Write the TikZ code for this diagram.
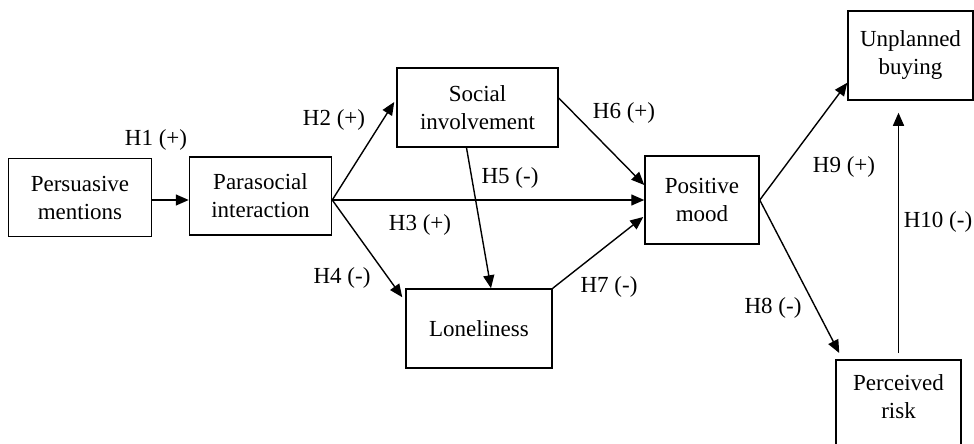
\documentclass[tikz,border=0pt]{standalone}
\usepackage{fontspec}
\setmainfont{Liberation Serif}
\usetikzlibrary{arrows.meta,calc}
\begin{document}
\begin{tikzpicture}[x=1pt,y=-1pt,
  txt/.style={font=\fontsize{23}{28}\selectfont},
  box/.style={txt,draw,line width=1.5pt,align=center,inner sep=0pt},
  lbl/.style={txt,inner sep=0pt},
  arr/.style={line width=1.4pt,-{Triangle[length=13pt,width=11pt]}},
]
\useasboundingbox (0,0) rectangle (974,444);
% boxes
\node[box,minimum width=143pt,minimum height=78pt] (pm) at (80,197.5) {Persuasive\\mentions};
\node[box,minimum width=142pt,minimum height=78pt] (ps) at (260.5,196) {Parasocial\\interaction};
\node[box,minimum width=161pt,minimum height=79pt] (si) at (477.5,107.5) {Social\\involvement};
\node[box,minimum width=146pt,minimum height=79pt] (lo) at (479,328.5) {Loneliness};
\node[box,minimum width=114pt,minimum height=88pt] (mo) at (702,200) {Positive\\mood};
\node[box,minimum width=125pt,minimum height=89pt] (ub) at (910.5,55.5) {Unplanned\\buying};
\node[box,minimum width=125pt,minimum height=100pt,anchor=north] (pr) at (898.5,359) {};
\node[lbl,align=center] (prt) at (898.5,397) {Perceived\\risk};
% connectors
\coordinate (o) at (ps.east |- mo.west);
\draw[arr] (pm.east |- o) -- (ps.west |- o);
\draw[arr] (o) -- ($(si.west)+(-2,-5.5)$);
\draw[arr] (o) -- (mo.west);
\draw[arr] (o) -- ($(lo.north west)+(-3,9)$);
\draw[arr] ($(si.south)+(-11,0)$) -- ($(lo.north)+(12,0)$);
\draw[arr] ($(si.east)+(0,-9.5)$) -- ($(mo.west)+(0,-15)$);
\draw[arr] (lo.north east) -- ($(mo.west)+(-1,17)$);
\draw[arr] (mo.east) -- ($(ub.south west)+(0,-18)$);
\draw[arr] (mo.east) -- ($(pr.north west)+(4,-6)$);
\draw[arr] ($(pr.north)+(0,-6)$) -- ($(pr.north |- ub.south)+(0,12)$);
% labels
\node[lbl] (h1) at (156,140) {H1 (+)};
\node[lbl] (h2) at (334,120) {H2 (+)};
\node[lbl] (h3) at (420,225) {H3 (+)};
\node[lbl] (h4) at (342,278) {H4 (-)};
\node[lbl] (h5) at (510,178) {H5 (-)};
\node[lbl] (h6) at (624,113) {H6 (+)};
\node[lbl] (h7) at (609,287) {H7 (-)};
\node[lbl] (h8) at (773,308) {H8 (-)};
\node[lbl] (h9) at (844,167) {H9 (+)};
\node[lbl] (h10) at (938,222) {H10 (-)};
\end{tikzpicture}
\end{document}
